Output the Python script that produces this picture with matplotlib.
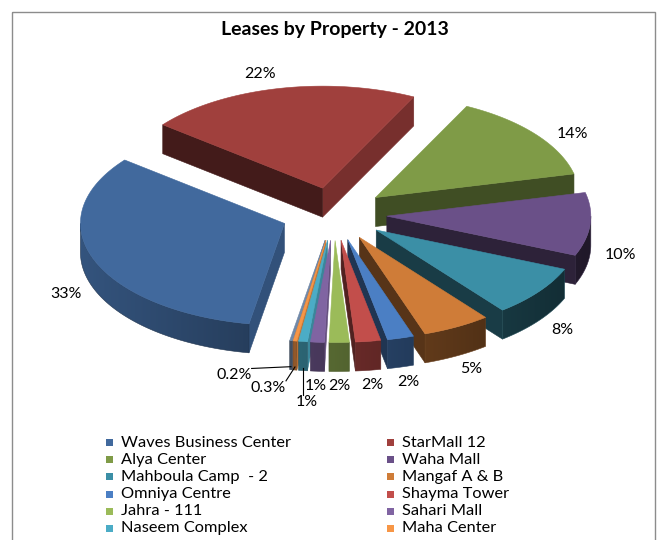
import numpy as np
import matplotlib
matplotlib.use('Agg')
import matplotlib.pyplot as plt
from matplotlib.patches import Polygon, Rectangle
from matplotlib.colors import to_rgb

plt.rcParams['font.family'] = ['Lato', 'DejaVu Sans']

# ------------------------------------------------------------
# data
# ------------------------------------------------------------
properties = ['Waves Business Center', 'StarMall 12', 'Alya Center', 'Waha Mall',
              'Mahboula Camp  - 2', 'Mangaf A & B', 'Omniya Centre', 'Shayma Tower',
              'Jahra - 111', 'Sahari Mall', 'Naseem Complex', 'Maha Center']
# 13th slice (0.2%) has its legend row cut off in the source picture
shares = [32.9, 21.7, 13.9, 10.0, 8.1, 5.4, 2.1, 2.0, 1.6, 1.1, 0.7, 0.3, 0.2]
colors = ['#41699D', '#A0403D', '#7F9B47', '#6A5088', '#3B8FA6', '#CF7C38',
          '#4B7FC4', '#C24E4B', '#9BBB59', '#8064A2', '#4BACC6', '#F79646', '#7088A8']
title = 'Leases by Property - 2013'

# ------------------------------------------------------------
# fake 3D exploded pie, drawn in pixel coordinates
# ------------------------------------------------------------
fig = plt.figure(figsize=(6.59, 5.40), dpi=100)
ax = fig.add_axes([0, 0, 1, 1])
ax.set_xlim(0, 659)
ax.set_ylim(540, 0)
ax.axis('off')

ax.add_patch(Rectangle((12, 12), 643, 560, fill=False, edgecolor='#8C8C8C', lw=1.0))

cx, cy = 334, 214      # pie centre
rx, tilt = 204, 0.5    # radius (px) and vertical squash
expl = 53              # explosion distance
depth = 29             # thickness
start = 260            # angle where first slice begins (going clockwise)

frac = np.array(shares) / sum(shares)
a_lo = start - 360 * np.cumsum(frac)
a_hi = a_lo + 360 * frac


def shade(c, f):
    r, g, b = to_rgb(c)
    return (r * f, g * f, b * f)


def origin(mid):
    m = np.radians(mid)
    return cx + expl * np.cos(m), cy - expl * tilt * np.sin(m)


def point(ox, oy, ang, r=1.0):
    a = np.radians(ang)
    return ox + r * rx * np.cos(a), oy - r * rx * tilt * np.sin(a)


mids = (a_lo + a_hi) / 2
order = np.argsort(-np.sin(np.radians(mids)))   # back slices first

for z, i in enumerate(order):
    lo, hi, mid, col = a_lo[i], a_hi[i], mids[i], colors[i]
    ox, oy = origin(mid)
    zb = 2 + z * 0.01

    # radial faces
    for edge, normal, vis in [(lo, lo - 90, np.cos(np.radians(lo)) > 0),
                              (hi, hi + 90, np.cos(np.radians(hi)) < 0)]:
        if not vis:
            continue
        ex, ey = point(ox, oy, edge)
        f = 0.42 + 0.36 * max(0.0, np.cos(np.radians(normal)))
        c = shade(col, f)
        ax.add_patch(Polygon([(ox, oy), (ex, ey), (ex, ey + depth), (ox, oy + depth)],
                             closed=True, facecolor=c, edgecolor=c, lw=0.4, zorder=zb))

    # outer wall on the front half, shaded left (light) to right (dark)
    w_lo, w_hi = max(lo, -180), min(hi, 0)
    if lo > 0 or hi > 180:
        w_lo, w_hi = max(lo, 180), min(hi, 360)
    if w_hi > w_lo:
        wa = np.linspace(w_lo, w_hi, max(3, int(w_hi - w_lo) + 2))
        top = [point(ox, oy, a) for a in wa]
        bot = [(x, y + depth) for x, y in top[::-1]]
        wall = Polygon(top + bot, closed=True, facecolor='none', edgecolor='none', zorder=zb)
        ax.add_patch(wall)
        xs = np.array([p[0] for p in top])
        ys = np.array([p[1] for p in top])
        x0, x1 = xs.min() - 1, xs.max() + 1
        y0, y1 = ys.min() - 1, ys.max() + depth + 1
        gx = np.linspace(x0, x1, 200)
        f = 0.55 - 0.25 * np.clip((gx - ox) / rx, -1, 1)
        img = np.array([shade(col, v) for v in f])[None, :, :]
        im = ax.imshow(img, extent=(x0, x1, y1, y0), aspect='auto',
                       interpolation='bilinear', zorder=zb)
        im.set_clip_path(wall)
        ax.add_patch(Polygon(top + bot, closed=True, facecolor='none',
                             edgecolor=shade(col, 0.5), lw=0.4, zorder=zb))

    # top face
    arc = [point(ox, oy, a) for a in np.linspace(lo, hi, max(3, int(hi - lo) + 2))]
    ax.add_patch(Polygon([(ox, oy)] + arc, closed=True, facecolor=col,
                         edgecolor=col, lw=0.4, zorder=zb + 0.005))

ax.set_xlim(0, 659)
ax.set_ylim(540, 0)

# ------------------------------------------------------------
# percentage labels
# ------------------------------------------------------------
pad = 30
nudge = {1: (-12, 0), 2: (14, 9), 10: (7, 17), 11: (-22, 3), 12: (-52, -9)}
leader = {10, 11, 12}
fig.canvas.draw()
renderer = fig.canvas.get_renderer()
inv = ax.transData.inverted()

for i in range(len(shares)):
    p = frac[i] * 100
    txt = f'{p:.1f}%' if p < 0.5 else f'{p:.0f}%'
    mid = mids[i]
    ox, oy = origin(mid)
    lx, ly = point(ox, oy, mid, 1 + pad / rx)
    if np.sin(np.radians(mid)) < 0.1:
        ly += depth
    dx, dy = nudge.get(i, (0, 0))
    t = ax.text(lx + dx, ly + dy, txt, ha='center', va='center', fontsize=11.5,
                color='black', zorder=5)
    if i in leader:
        bb = t.get_window_extent(renderer)
        (x0, y0), (x1, y1) = inv.transform([(bb.x0, bb.y0), (bb.x1, bb.y1)])
        tx, ty = point(ox, oy, mid)
        ty += depth - 3
        sx = min(max(tx, min(x0, x1)), max(x0, x1))
        sy = min(max(ty, min(y0, y1)), max(y0, y1))
        ax.plot([sx, tx], [sy, ty], color='black', lw=0.8, zorder=5)

ax.text(335, 30, title, ha='center', va='center', fontsize=14, fontweight='bold')

# ------------------------------------------------------------
# legend (two columns)
# ------------------------------------------------------------
for i, name in enumerate(properties):
    col, row = i % 2, i // 2
    x = 106 + col * 281
    y = 442.7 + row * 17.1
    ax.add_patch(Rectangle((x, y - 3.5), 7, 7, facecolor=colors[i], edgecolor='none'))
    ax.text(x + 15, y, name, ha='left', va='center', fontsize=11.8, color='black')

fig.savefig('out.png', dpi=100)
